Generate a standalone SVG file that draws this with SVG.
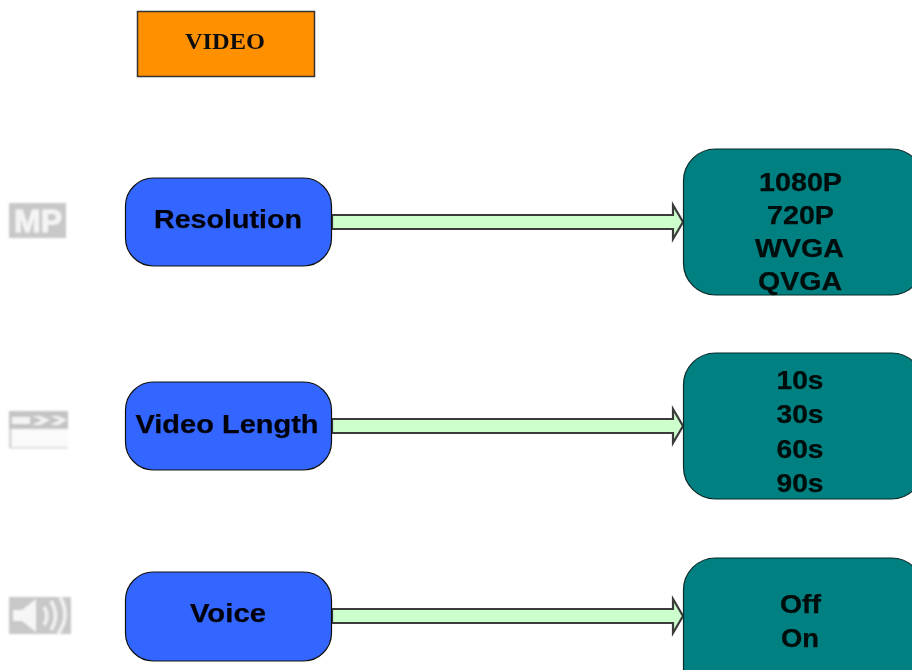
<svg xmlns="http://www.w3.org/2000/svg" width="912" height="670" viewBox="0 0 912 670">
<defs>
<style>
.src{fill:#3366ff;stroke:#111;stroke-width:1.2}
.dst{fill:#008080;stroke:#0a2a2a;stroke-width:1.2}
.t{font-family:"Liberation Sans",Arial,sans-serif;font-weight:bold;font-size:25px;fill:#050510;text-anchor:middle;stroke:#050510;stroke-width:.25}
.o{font-family:"Liberation Sans",Arial,sans-serif;font-weight:bold;font-size:25.5px;fill:#030808;text-anchor:middle;stroke:#030808;stroke-width:.25}
.arrow{fill:#ccffcc;stroke:#3a3a3a;stroke-width:2.2;stroke-linejoin:miter}
</style>
<filter id="soft" x="-10%" y="-10%" width="120%" height="120%"><feGaussianBlur stdDeviation="1"/></filter>
<filter id="soft2" x="-5%" y="-5%" width="110%" height="110%"><feGaussianBlur stdDeviation="0.45"/></filter>
</defs>
<rect width="912" height="670" fill="#fff"/>
<g id="video-title" filter="url(#soft2)">
<rect x="137.500" y="11.500" width="177" height="65" fill="#ff9000" stroke="#333" stroke-width="1.500"/>
<text x="225" y="49" font-family="'Liberation Serif','Times New Roman',serif" font-weight="bold" font-size="24" fill="#111" text-anchor="middle" textLength="80" lengthAdjust="spacingAndGlyphs">VIDEO</text>
</g>
<g id="connectors" filter="url(#soft2)">
<path class="arrow" d="M332 215H673V205L683 222L673 239V229H332Z"/>
<path class="arrow" d="M332 419H673V409L683 426L673 443V433H332Z"/>
<path class="arrow" d="M332 609H673V599L683 616L673 633V623H332Z"/>
</g>
<g id="icon-mp" filter="url(#soft)">
<rect x="9" y="203" width="57" height="35" fill="#c8c8c8"/>
<text x="38" y="232" font-family="'Liberation Sans',Arial,sans-serif" font-weight="bold" font-size="31" fill="#f4f4f4" stroke="#f4f4f4" stroke-width="1" text-anchor="middle" textLength="48" lengthAdjust="spacingAndGlyphs">MP</text>
</g>
<g id="icon-clapper" filter="url(#soft)">
<rect x="9" y="411" width="59" height="37" fill="#fafafa"/>
<rect x="9" y="411" width="59" height="18" fill="#c4c4c4"/>
<path d="M12 417H30V424H12ZM32 416L42 420L32 425H40L50 420L40 416ZM50 416L60 420L50 425H58L67 420L58 416Z" fill="#f4f4f4"/>
<rect x="9" y="429" width="2.500" height="19" fill="#d4d4d4"/>
<rect x="9" y="447" width="59" height="1.500" fill="#d8d8d8"/>
</g>
<g id="icon-speaker" filter="url(#soft)">
<rect x="9" y="597" width="62" height="37" fill="#c8c8c8"/>
<path d="M13 610H22L36 599V632L22 621H13Z" fill="#f6f6f6"/>
<path d="M44 607Q50 616 44 625M51 601Q60 616 51 630M60 597Q71 616 58 634" fill="none" stroke="#f2f2f2" stroke-width="3.500"/>
</g>
<g id="node-resolution" filter="url(#soft2)">
<rect class="src" x="125.500" y="178" width="206" height="88" rx="28"/>
<text class="t" x="228" y="228" textLength="148" lengthAdjust="spacingAndGlyphs">Resolution</text>
</g>
<g id="node-video-length" filter="url(#soft2)">
<rect class="src" x="125.500" y="382" width="206" height="88" rx="28"/>
<text class="t" x="227" y="433" textLength="183" lengthAdjust="spacingAndGlyphs">Video Length</text>
</g>
<g id="node-voice" filter="url(#soft2)">
<rect class="src" x="125.500" y="572" width="206" height="89" rx="28"/>
<text class="t" x="228" y="622" textLength="76" lengthAdjust="spacingAndGlyphs">Voice</text>
</g>
<g id="node-resolution-options" filter="url(#soft2)">
<rect class="dst" x="683.500" y="149" width="240" height="146" rx="32"/>
<text class="o" x="800.500" y="191" textLength="83" lengthAdjust="spacingAndGlyphs">1080P</text>
<text class="o" x="800.500" y="224" textLength="67" lengthAdjust="spacingAndGlyphs">720P</text>
<text class="o" x="799.500" y="257" textLength="89" lengthAdjust="spacingAndGlyphs">WVGA</text>
<text class="o" x="800" y="290" textLength="84" lengthAdjust="spacingAndGlyphs">QVGA</text>
</g>
<g id="node-length-options" filter="url(#soft2)">
<rect class="dst" x="683.500" y="353" width="240" height="146" rx="32"/>
<text class="o" x="800" y="389" textLength="47" lengthAdjust="spacingAndGlyphs">10s</text>
<text class="o" x="800" y="423" textLength="47" lengthAdjust="spacingAndGlyphs">30s</text>
<text class="o" x="800" y="458" textLength="47" lengthAdjust="spacingAndGlyphs">60s</text>
<text class="o" x="800" y="492" textLength="47" lengthAdjust="spacingAndGlyphs">90s</text>
</g>
<g id="node-voice-options" filter="url(#soft2)">
<rect class="dst" x="683.500" y="558" width="240" height="146" rx="32"/>
<text class="o" x="800.500" y="613" textLength="41" lengthAdjust="spacingAndGlyphs">Off</text>
<text class="o" x="800" y="647" textLength="38" lengthAdjust="spacingAndGlyphs">On</text>
</g>
</svg>
